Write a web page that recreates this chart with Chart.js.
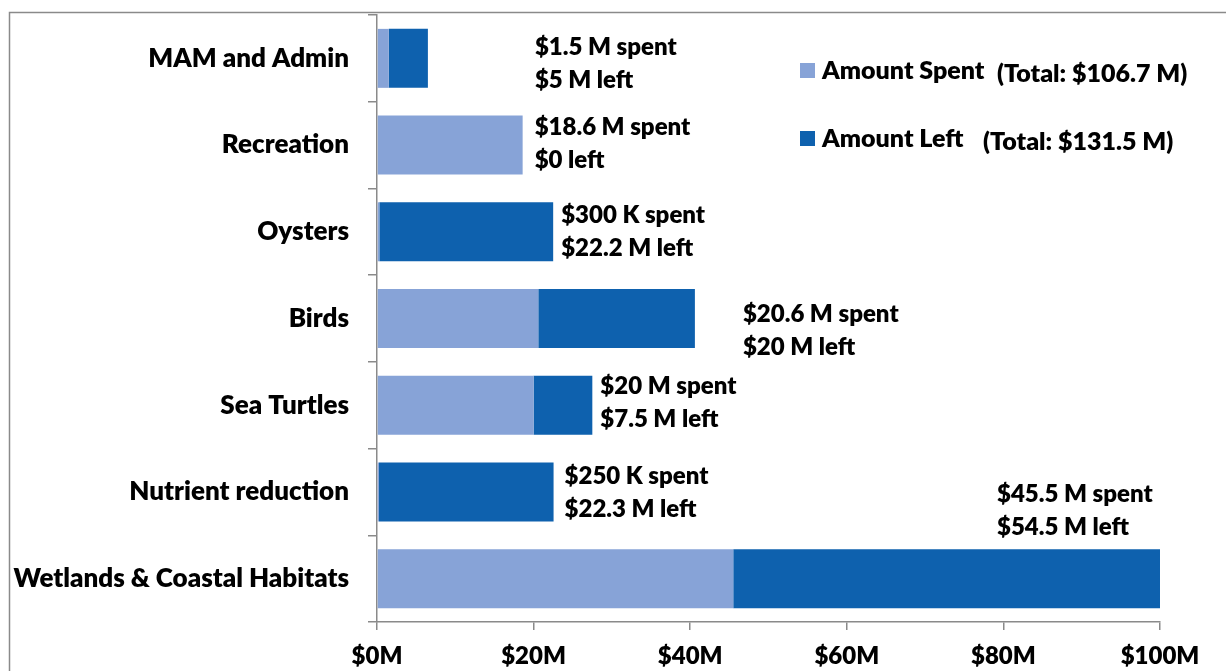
<!DOCTYPE html>
<html>
<head>
<meta charset="utf-8">
<script src="https://cdn.jsdelivr.net/npm/chart.js@4.4.1/dist/chart.umd.min.js"></script>
<style>
  html, body { margin: 0; padding: 0; background: #fff; }
  #wrap { position: relative; width: 1226px; height: 671px; }
</style>
</head>
<body>
<div id="wrap"><canvas id="chart"></canvas></div>
<script>
// data ($ millions)
const categories = ['MAM and Admin', 'Recreation', 'Oysters', 'Birds', 'Sea Turtles', 'Nutrient reduction', 'Wetlands & Coastal Habitats'];
const spent = [1.5, 18.6, 0.3, 20.6, 20, 0.25, 45.5];
const left = [5, 0, 22.2, 20, 7.5, 22.3, 54.5];
const spentText = ['$1.5 M spent', '$18.6 M spent', '$300 K spent', '$20.6 M spent', '$20 M spent', '$250 K spent', '$45.5 M spent'];
const leftText = ['$5 M left', '$0 left', '$22.2 M left', '$20 M left', '$7.5 M left', '$22.3 M left', '$54.5 M left'];
const seriesNames = ['Amount Spent', 'Amount Left'];
const seriesTotals = ['(Total: $106.7 M)', '(Total: $131.5 M)'];
const xTicks = [0, 20, 40, 60, 80, 100];

const SPENT_COLOR = '#87a3d7';
const LEFT_COLOR = '#0e61ae';
const AXIS_COLOR = '#8a8a8a';
const FONT = 'Lato';
const WEIGHT = '800';

// where each two-line label sits, relative to the end of its bar
const labelOffsets = [[107, -11], [12, -18], [8, -17], [48, -4], [8, -19], [11, -16], [-163, -84]];

const framePlugin = {
    id: 'frame',
    beforeDraw(chart) {
        const ctx = chart.ctx;
        ctx.save();
        ctx.strokeStyle = AXIS_COLOR;
        ctx.lineWidth = 1.5;
        ctx.strokeRect(9.5, 12.5, 1300, 700);
        ctx.restore();
    }
};

const barLabels = {
    id: 'barLabels',
    afterDatasetsDraw(chart) {
        const ctx = chart.ctx;
        const xs = chart.scales.x;
        const ys = chart.scales.y;
        ctx.save();
        ctx.font = WEIGHT + ' 24px ' + FONT;
        ctx.fillStyle = '#000';
        ctx.textAlign = 'left';
        ctx.textBaseline = 'middle';
        categories.forEach((c, i) => {
            const xEnd = xs.getPixelForValue(spent[i] + left[i]);
            const yc = ys.getPixelForValue(i);
            const [dx, dy] = labelOffsets[i];
            ctx.fillText(spentText[i], xEnd + dx, yc + dy);
            ctx.fillText(leftText[i], xEnd + dx, yc + dy + 33);
        });
        ctx.restore();
    }
};

const sideLegend = {
    id: 'sideLegend',
    afterDraw(chart) {
        const ctx = chart.ctx;
        const colors = [SPENT_COLOR, LEFT_COLOR];
        const rows = [71, 139];
        const totalX = [997, 983];
        ctx.save();
        ctx.font = WEIGHT + ' 25px ' + FONT;
        ctx.textBaseline = 'middle';
        rows.forEach((y, i) => {
            ctx.fillStyle = colors[i];
            ctx.fillRect(800, y - 8, 15, 15);
            ctx.fillStyle = '#000';
            ctx.fillText(seriesNames[i], 822, y);
            ctx.fillText(seriesTotals[i], totalX[i], y + 3);
        });
        ctx.restore();
    }
};

new Chart(document.getElementById('chart'), {
    type: 'bar',
    data: {
        labels: categories,
        datasets: [
            { label: seriesNames[0], data: spent, backgroundColor: SPENT_COLOR, barPercentage: 0.68, categoryPercentage: 1 },
            { label: seriesNames[1], data: left, backgroundColor: LEFT_COLOR, barPercentage: 0.68, categoryPercentage: 1 }
        ]
    },
    options: {
        indexAxis: 'y',
        responsive: true,
        maintainAspectRatio: false,
        animation: false,
        devicePixelRatio: 1,
        layout: { padding: { top: 0, right: 66, left: 0, bottom: 0 } },
        plugins: {
            legend: { display: false },
            tooltip: { enabled: false }
        },
        scales: {
            x: {
                stacked: true,
                min: 0,
                max: 100,
                afterBuildTicks(scale) {
                    scale.ticks = xTicks.map(v => ({ value: v }));
                },
                afterFit(scale) { scale.height = 49; },
                ticks: {
                    callback: v => '$' + v + 'M',
                    color: '#000',
                    font: { family: FONT, size: 24, weight: WEIGHT },
                    padding: 12,
                    maxRotation: 0
                },
                grid: { drawOnChartArea: false, tickLength: 8, color: AXIS_COLOR, lineWidth: 1.5 },
                border: { color: AXIS_COLOR, width: 1.5 }
            },
            y: {
                stacked: true,
                afterFit(scale) {
                    scale.width = 377;
                    scale.paddingTop = 15;
                    scale.paddingBottom = 0;
                },
                ticks: {
                    color: '#000',
                    font: { family: FONT, size: 26, weight: WEIGHT },
                    padding: 19
                },
                grid: { drawOnChartArea: false, tickLength: 9, color: AXIS_COLOR, lineWidth: 1.5 },
                border: { color: AXIS_COLOR, width: 1.5 }
            }
        }
    },
    plugins: [framePlugin, barLabels, sideLegend]
});
</script>
</body>
</html>
